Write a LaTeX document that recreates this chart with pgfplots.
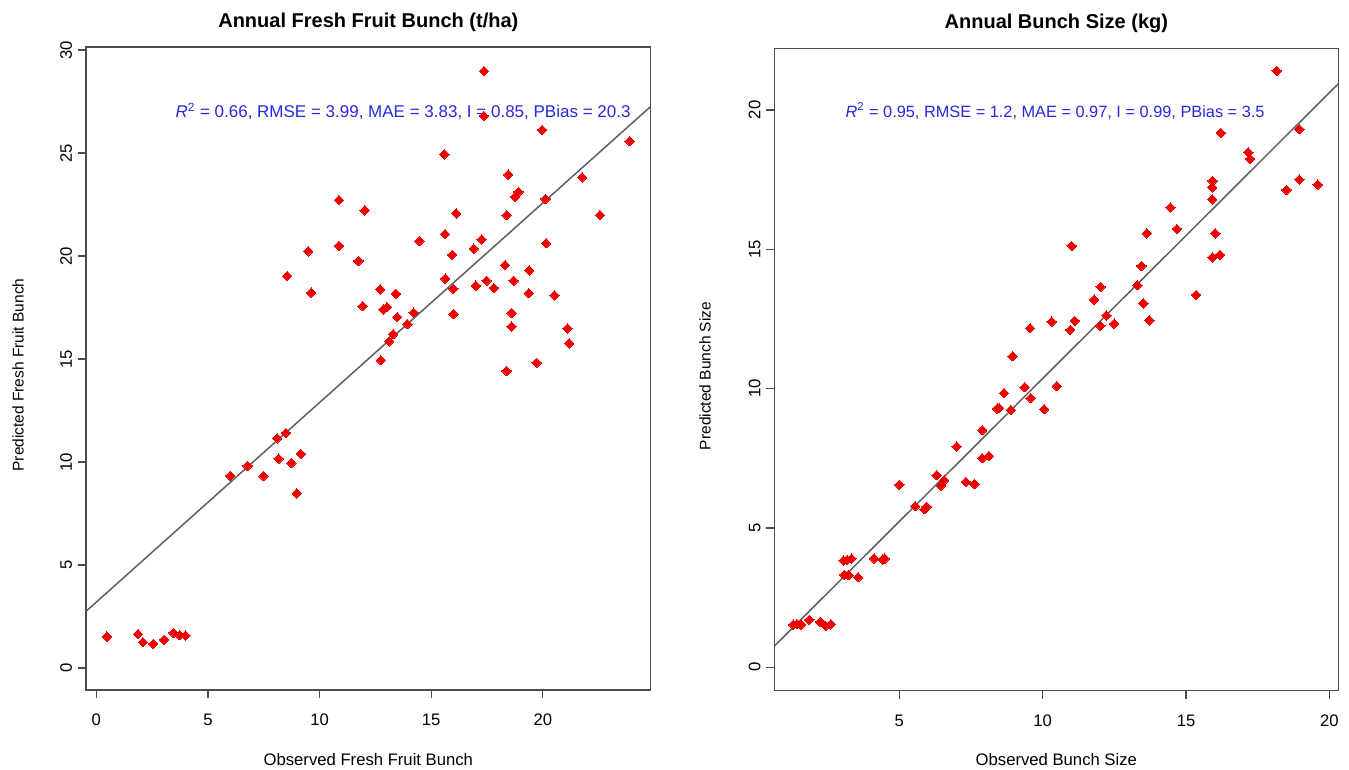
\documentclass[border=0pt]{standalone}
\usepackage{fontspec}
\setmainfont{Liberation Sans}
\usepackage{pgfplots}
\pgfplotsset{compat=1.18}
\definecolor{annot}{RGB}{40,40,225}
\definecolor{boxgray}{RGB}{75,75,75}
\definecolor{linegray}{RGB}{95,95,95}
\definecolor{ptred}{RGB}{238,0,0}

\pgfplotstableread{
x y
0.48 1.52
1.87 1.64
2.09 1.25
2.55 1.17
3.04 1.37
3.46 1.70
3.73 1.59
4.00 1.57
6.00 9.33
6.77 9.81
7.49 9.32
8.10 11.15
8.49 11.41
8.17 10.16
8.74 9.95
9.16 10.40
8.98 8.48
8.55 19.03
9.49 20.23
9.62 18.22
10.87 22.72
10.87 20.50
11.74 19.76
11.93 17.57
12.02 22.22
12.72 18.38
12.74 14.94
12.86 17.41
13.02 17.52
13.12 15.86
13.30 16.21
13.42 18.17
13.48 17.04
13.93 16.70
14.21 17.25
14.47 20.73
15.59 24.94
15.62 21.07
15.63 18.90
15.94 20.06
15.99 18.41
16.00 17.18
16.12 22.07
16.91 20.36
17.00 18.56
17.26 20.81
17.36 28.98
17.36 26.80
17.48 18.80
17.81 18.45
18.31 19.56
18.38 21.99
18.38 14.42
18.45 23.95
18.60 17.23
18.60 16.58
18.69 18.80
18.76 22.88
18.91 23.11
19.37 18.20
19.39 19.30
19.72 14.82
19.97 26.12
20.12 22.77
20.15 20.62
20.52 18.09
21.10 16.49
21.18 15.76
21.76 23.82
22.56 21.99
23.89 25.58
}\ffbdata

\pgfplotstableread{
x y
1.30 1.53
1.43 1.55
1.57 1.53
1.86 1.70
2.24 1.63
2.43 1.49
2.61 1.54
3.05 3.83
3.18 3.85
3.33 3.90
3.08 3.32
3.23 3.31
3.56 3.23
4.12 3.90
4.41 3.86
4.49 3.90
5.00 6.55
5.55 5.78
5.88 5.67
5.95 5.76
6.30 6.89
6.45 6.52
6.56 6.71
7.00 7.92
7.32 6.65
7.62 6.57
7.89 8.51
7.89 7.50
8.12 7.58
8.41 9.28
8.48 9.30
8.65 9.84
8.89 9.23
8.95 11.16
9.37 10.05
9.56 12.17
9.58 9.66
10.05 9.26
10.31 12.40
10.49 10.09
10.96 12.11
11.01 15.12
11.12 12.43
11.79 13.19
12.01 12.25
12.02 13.65
12.22 12.62
12.49 12.33
13.30 13.71
13.44 14.40
13.51 13.06
13.63 15.57
13.72 12.45
14.45 16.50
14.68 15.73
15.35 13.36
15.91 16.79
15.91 17.22
15.92 17.45
15.92 14.71
16.02 15.57
16.18 14.80
16.21 19.18
17.17 18.48
17.23 18.24
18.16 21.40
18.50 17.13
18.95 19.31
18.95 17.50
19.59 17.32
}\bsdata

\pgfplotsset{
  rstyle/.style={
    scale only axis,
    axis line style={boxgray, line width=0.8pt},
    tick align=outside,
    xtick pos=left, ytick pos=left,
    major tick length=4.8pt,
    tick style={boxgray, line width=0.8pt},
    every tick label/.append style={font=\fontsize{10}{12}\selectfont, text=black},
    /pgf/number format/assume math mode=true,
    yticklabel style={rotate=90, anchor=south},
    xticklabel style={yshift=-6pt},
    title style={anchor=center, yshift=-6pt, font=\fontsize{12}{14}\bfseries\selectfont},
    xlabel style={anchor=center, font=\fontsize{10}{12}\selectfont},
    ylabel style={anchor=center, font=\fontsize{9.3}{11}\selectfont},
    clip=true,
  },
  pts/.style={only marks, mark=square*, mark size=2.0pt,
    mark options={rotate=45, fill=ptred, draw=ptred, line width=0pt}},
}

\begin{document}
\begin{tikzpicture}
\useasboundingbox (0,0) rectangle (809.4pt,461.4pt);
\begin{axis}[rstyle,
  at={(51.6pt,47.4pt)}, anchor=south west,
  width=338.8pt, height=385.8pt,
  xmin=-0.46, xmax=24.83, ymin=-1.07, ymax=30.15,
  xtick={0,5,10,15,20}, ytick={0,5,10,15,20,25,30},
  title={Annual Fresh Fruit Bunch (t/ha)},
  title style={at={(axis description cs:0.5,1.0389)}},
  xlabel={Observed Fresh Fruit Bunch},
  xlabel style={at={(axis description cs:0.5,-0.1089)}},
  ylabel={Predicted Fresh Fruit Bunch},
  ylabel style={at={(axis description cs:-0.1204,0.49)}},
]
\addplot[linegray, line width=0.9pt] coordinates {(-0.46,2.75) (24.83,27.26)};
\addplot[pts] table {\ffbdata};
\node[text=annot, font=\fontsize{10.2}{12}\selectfont] at (axis cs:13.74,27.04)
  {\textit{R}\textsuperscript{2} = 0.66, RMSE = 3.99, MAE = 3.83, I = 0.85, PBias = 20.3};
\end{axis}

\begin{axis}[rstyle,
  at={(464.6pt,47.0pt)}, anchor=south west,
  width=338.4pt, height=385.4pt,
  xmin=0.64, xmax=20.31, ymin=-0.84, ymax=22.21,
  xtick={5,10,15,20}, ytick={0,5,10,15,20},
  title={Annual Bunch Size (kg)},
  title style={at={(axis description cs:0.5,1.0389)}},
  xlabel={Observed Bunch Size},
  xlabel style={at={(axis description cs:0.5,-0.108)}},
  ylabel={Predicted Bunch Size},
  ylabel style={at={(axis description cs:-0.1229,0.49)}},
]
\addplot[linegray, line width=0.9pt] coordinates {(0.64,0.76) (20.31,20.94)};
\addplot[pts] table {\bsdata};
\node[text=annot, font=\fontsize{9.8}{12}\selectfont] at (axis cs:10.43,19.96)
  {\textit{R}\textsuperscript{2} = 0.95, RMSE = 1.2, MAE = 0.97, I = 0.99, PBias = 3.5};
\end{axis}
\end{tikzpicture}
\end{document}
